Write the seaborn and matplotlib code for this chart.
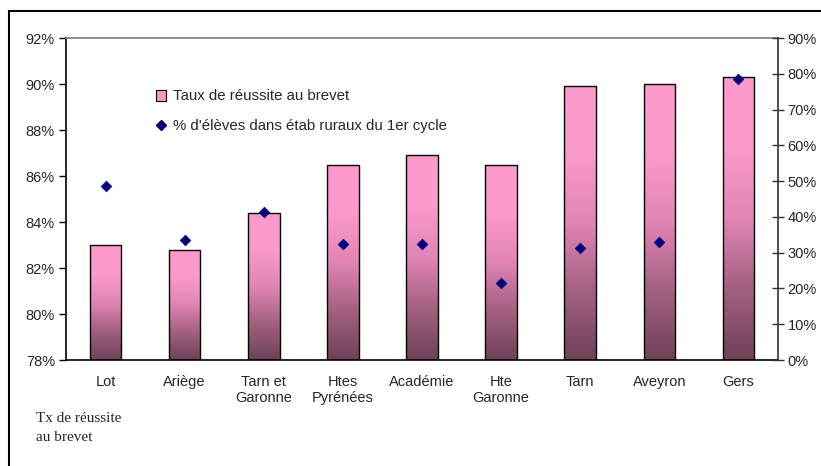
import numpy as np
import pandas as pd
import matplotlib
matplotlib.use('Agg')
import matplotlib.pyplot as plt
import seaborn as sns
from matplotlib.colors import LinearSegmentedColormap
from matplotlib.patches import Rectangle, Patch
from matplotlib.lines import Line2D
from matplotlib.ticker import PercentFormatter, FixedLocator

zones = ['Lot', 'Ariège', 'Tarn et\nGaronne', 'Htes\nPyrénées', 'Académie',
         'Hte\nGaronne', 'Tarn', 'Aveyron', 'Gers']
reussite = [83.0, 82.8, 84.4, 86.5, 86.9, 86.5, 89.9, 90.0, 90.3]
ruraux = [48.6, 33.5, 41.4, 32.4, 32.4, 21.5, 31.3, 33.0, 78.5]

df = pd.DataFrame({'zone': zones, 'reussite': reussite, 'ruraux': ruraux})

sns.set_theme(style='white')
plt.rcParams['font.family'] = ['Liberation Sans', 'DejaVu Sans']

fig = plt.figure(figsize=(8.21, 4.66), dpi=100)
ax = fig.add_axes([66/821, 1 - 360/466, (778-66)/821, (360-38)/466])

sns.barplot(data=df, x='zone', y='reussite', width=0.4, color='#f99ac8',
            ax=ax, zorder=2)

# gradient fill inside each bar (pink on top, dark plum at the base)
cmap = LinearSegmentedColormap.from_list(
    'brevet', ['#6e4258', '#a3607f', '#e085b4', '#fb9acb', '#fe9bcc'])
grad = np.linspace(0, 1, 256).reshape(-1, 1)
for patch in ax.patches:
    x0 = patch.get_x()
    w = patch.get_width()
    top = patch.get_y() + patch.get_height()
    im = ax.imshow(grad, cmap=cmap, origin='lower', aspect='auto',
                   extent=(x0, x0 + w, 78, top), zorder=2)
    im.set_clip_path(patch)
    patch.set_facecolor('none')
    patch.set_edgecolor('black')
    patch.set_linewidth(1.0)
    patch.set_zorder(3)

ax.set_xlim(-0.5, len(zones) - 0.5)
ax.set_ylim(78, 92)
ax.set_yticks(np.arange(78, 93, 2))
ax.yaxis.set_major_formatter(PercentFormatter(decimals=0))
ax.set_xlabel('')
ax.set_ylabel('')
ax.tick_params(axis='x', which='major', length=0, pad=11, labelsize=10.5)
ax.xaxis.set_minor_locator(FixedLocator(np.arange(0.5, len(zones) - 1, 1)))
ax.tick_params(axis='x', which='minor', direction='inout', length=8,
               width=1, color='black')
ax.tick_params(axis='y', direction='out', length=5, width=1, color='black',
               left=True, labelsize=10.5, pad=3)
for s in ['left', 'bottom']:
    ax.spines[s].set_color('black')
    ax.spines[s].set_linewidth(1.2)
ax.spines['top'].set_color('#808080')
ax.spines['right'].set_visible(False)

ax2 = ax.twinx()
sns.scatterplot(x=np.arange(len(zones)), y=ruraux, marker='D', color='#000080',
                s=30, edgecolor='#000080', ax=ax2, zorder=5)
ax2.set_ylim(0, 90)
ax2.set_yticks(np.arange(0, 91, 10))
ax2.yaxis.set_major_formatter(PercentFormatter(decimals=0))
ax2.tick_params(axis='y', direction='inout', length=8, width=1, color='#333333',
                right=True, labelsize=10.5, pad=3)
ax2.spines['right'].set_color('#333333')
ax2.spines['right'].set_linewidth(1.2)
for s in ['left', 'top', 'bottom']:
    ax2.spines[s].set_visible(False)
ax2.set_xlim(-0.5, len(zones) - 0.5)

handles = [Patch(facecolor='#f29ac6', edgecolor='black', linewidth=0.8),
           Line2D([], [], marker='D', linestyle='none', color='#000080',
                  markersize=5)]
fig.legend(handles, ['Taux de réussite au brevet',
                     "% d'élèves dans étab ruraux du 1er cycle"],
           loc='upper left', bbox_to_anchor=(142/821, 1 - 76/466),
           frameon=False, fontsize=10.8, handlelength=0.7, handleheight=0.7,
           handletextpad=0.45, labelspacing=1.05)

fig.text(36/821, 1 - 428/466, 'Tx de réussite\nau brevet',
         family=['Liberation Serif', 'DejaVu Serif'], fontsize=11,
         va='center', ha='left', linespacing=1.55)

# outer frame
fig.patches.append(Rectangle((9/821, -0.1), 1.2, (466 - 11)/466 + 0.1,
                             transform=fig.transFigure, fill=False,
                             edgecolor='black', linewidth=1.5))

fig.savefig('out.png', dpi=100)
